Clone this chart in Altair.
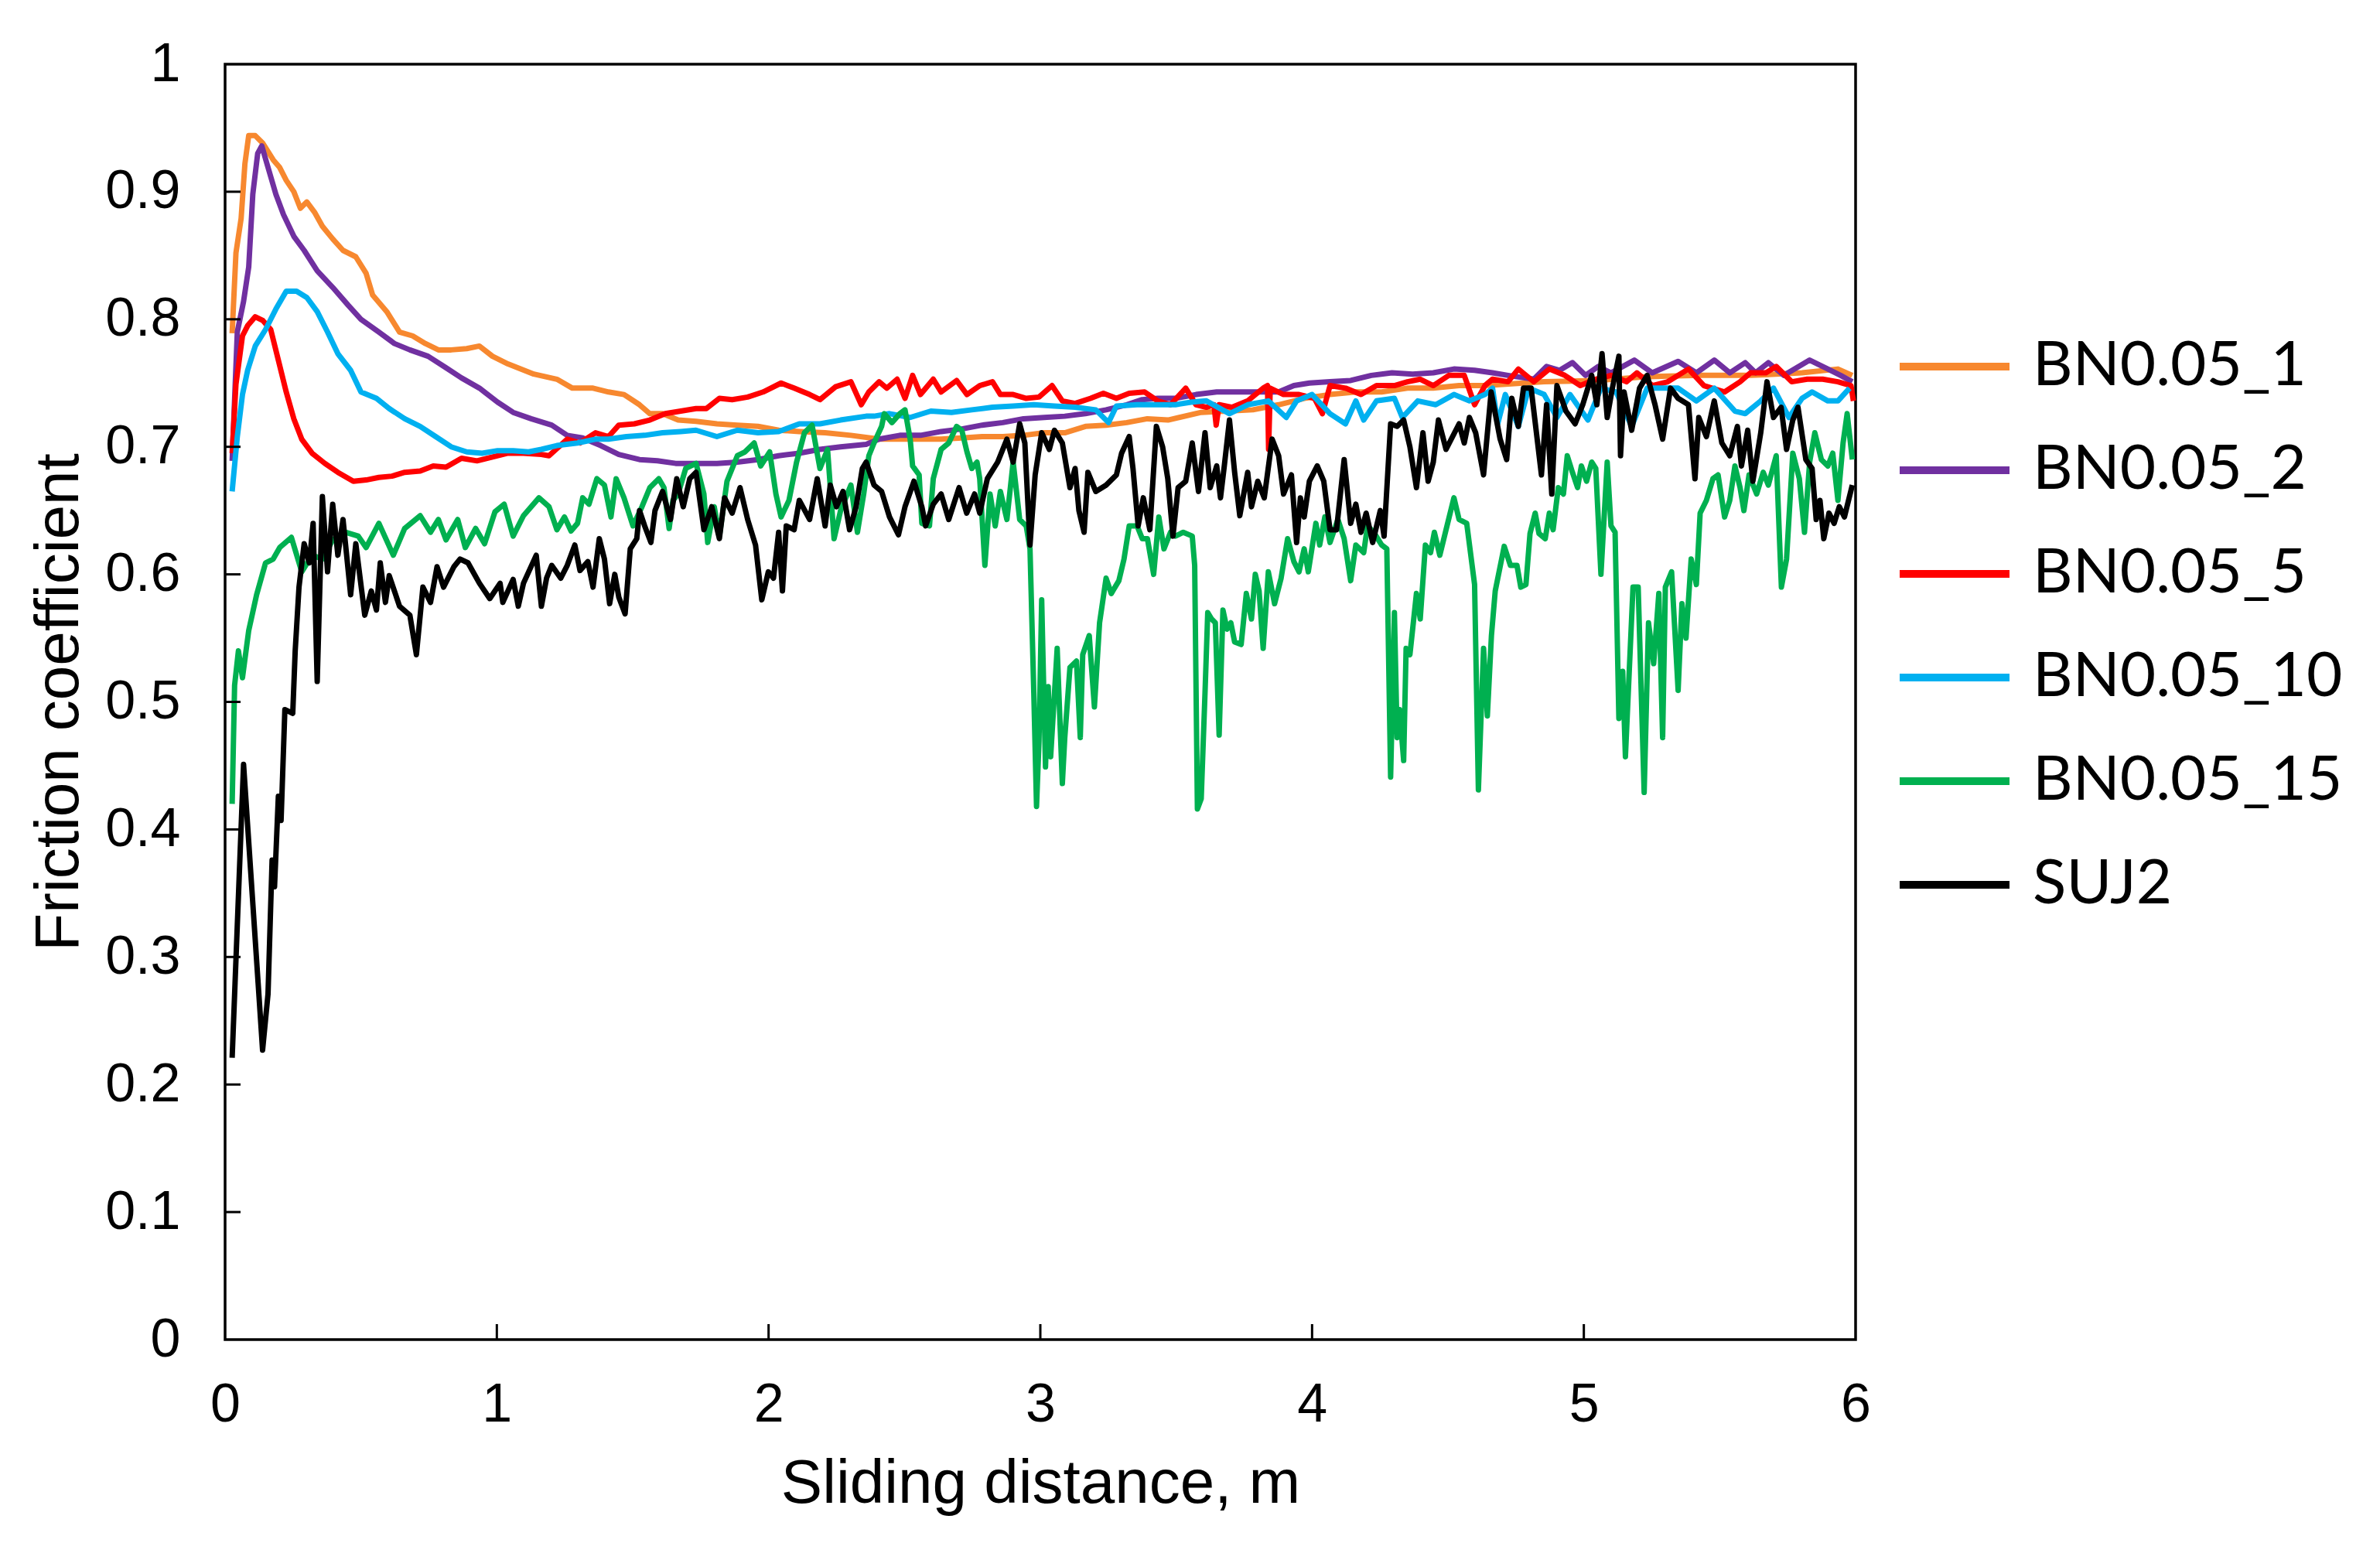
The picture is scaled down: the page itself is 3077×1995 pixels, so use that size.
import altair as alt
import pandas as pd

series_names = ["BN0.05_1", "BN0.05_2", "BN0.05_5", "BN0.05_10", "BN0.05_15", "SUJ2"]
series_colors = ["#F7882F", "#7030A0", "#FF0000", "#00B0F0", "#00B050", "#000000"]

x_ticks = [0, 1, 2, 3, 4, 5, 6]
y_ticks = [0, 0.1, 0.2, 0.3, 0.4, 0.5, 0.6, 0.7, 0.8, 0.9, 1]

bn1_x = [0.026, 0.04, 0.059, 0.073, 0.087, 0.111, 0.139, 0.177, 0.201, 0.225, 0.253, 0.277, 0.301, 0.329, 0.358,
         0.396, 0.434, 0.481, 0.519, 0.543, 0.595, 0.642, 0.69, 0.737, 0.785, 0.832, 0.889, 0.936, 0.984, 1.041,
         1.136, 1.221, 1.278, 1.354, 1.411, 1.468, 1.525, 1.563, 1.61, 1.667, 1.733, 1.81, 1.885, 1.961, 2.037,
         2.113, 2.208, 2.303, 2.407, 2.483, 2.559, 2.635, 2.711, 2.786, 2.862, 2.938, 3.014, 3.09, 3.166, 3.242,
         3.318, 3.394, 3.47, 3.592, 3.687, 3.782, 3.877, 3.971, 4.066, 4.161, 4.256, 4.351, 4.446, 4.541, 4.636,
         4.854, 5.044, 5.233, 5.423, 5.613, 5.803, 5.935, 5.988]
bn1_y = [0.789, 0.852, 0.879, 0.922, 0.944, 0.944, 0.938, 0.925, 0.919, 0.909, 0.9, 0.887, 0.892, 0.884, 0.873,
         0.863, 0.854, 0.849, 0.836, 0.819, 0.806, 0.79, 0.787, 0.781, 0.776, 0.776, 0.777, 0.779, 0.771, 0.765,
         0.757, 0.753, 0.746, 0.746, 0.743, 0.741, 0.733, 0.726, 0.726, 0.721, 0.72, 0.718, 0.717, 0.716, 0.713,
         0.712, 0.711, 0.709, 0.706, 0.706, 0.706, 0.706, 0.707, 0.708, 0.708, 0.709, 0.711, 0.711, 0.716, 0.717,
         0.719, 0.722, 0.721, 0.727, 0.728, 0.729, 0.733, 0.738, 0.741, 0.743, 0.743, 0.746, 0.746, 0.748, 0.748,
         0.751, 0.752, 0.755, 0.756, 0.756, 0.758, 0.761, 0.756]

bn2_x = [0.026, 0.045, 0.068, 0.087, 0.102, 0.12, 0.135, 0.154, 0.187, 0.215, 0.253, 0.291, 0.339, 0.396, 0.453,
         0.5, 0.566, 0.623, 0.68, 0.747, 0.813, 0.87, 0.936, 1.003, 1.06, 1.126, 1.202, 1.259, 1.316, 1.382,
         1.449, 1.525, 1.591, 1.658, 1.733, 1.81, 1.885, 1.961, 2.037, 2.113, 2.189, 2.265, 2.359, 2.407, 2.483,
         2.559, 2.635, 2.711, 2.786, 2.862, 2.938, 3.014, 3.09, 3.166, 3.242, 3.318, 3.375, 3.432, 3.497, 3.573,
         3.649, 3.725, 3.801, 3.877, 3.933, 3.99, 4.066, 4.142, 4.218, 4.294, 4.37, 4.446, 4.522, 4.598, 4.664,
         4.721, 4.816, 4.863, 4.911, 4.958, 5.006, 5.053, 5.1, 5.186, 5.252, 5.347, 5.414, 5.48, 5.537, 5.594,
         5.632, 5.679, 5.736, 5.831, 5.898, 5.945, 5.988]
bn2_y = [0.689, 0.79, 0.814, 0.841, 0.898, 0.93, 0.936, 0.922, 0.898, 0.882, 0.865, 0.854, 0.838, 0.825, 0.811,
         0.8, 0.79, 0.781, 0.776, 0.771, 0.762, 0.754, 0.746, 0.735, 0.727, 0.722, 0.717, 0.709, 0.707, 0.701,
         0.694, 0.69, 0.689, 0.687, 0.687, 0.687, 0.688, 0.69, 0.693, 0.695, 0.698, 0.7, 0.702, 0.706, 0.709,
         0.709, 0.712, 0.714, 0.717, 0.719, 0.722, 0.723, 0.724, 0.726, 0.729, 0.733, 0.737, 0.738, 0.738, 0.741,
         0.743, 0.743, 0.743, 0.743, 0.748, 0.75, 0.751, 0.752, 0.756, 0.758, 0.757, 0.758, 0.761, 0.76, 0.758,
         0.756, 0.753, 0.763, 0.76, 0.766, 0.756, 0.763, 0.758, 0.768, 0.758, 0.767, 0.758, 0.768, 0.758, 0.766,
         0.758, 0.766, 0.756, 0.768, 0.761, 0.756, 0.751]

bn5_x = [0.026, 0.04, 0.064, 0.083, 0.111, 0.139, 0.168, 0.196, 0.225, 0.253, 0.282, 0.32, 0.367, 0.415, 0.472,
         0.519, 0.566, 0.614, 0.661, 0.718, 0.766, 0.813, 0.87, 0.927, 0.984, 1.041, 1.098, 1.164, 1.192, 1.259,
         1.306, 1.363, 1.411, 1.449, 1.506, 1.563, 1.62, 1.677, 1.733, 1.771, 1.819, 1.866, 1.923, 1.98, 2.046,
         2.094, 2.151, 2.189, 2.246, 2.303, 2.341, 2.369, 2.407, 2.435, 2.473, 2.502, 2.53, 2.559, 2.606, 2.635,
         2.692, 2.73, 2.777, 2.824, 2.853, 2.9, 2.948, 2.995, 3.043, 3.081, 3.128, 3.185, 3.232, 3.28, 3.327,
         3.384, 3.432, 3.479, 3.535, 3.573, 3.611, 3.639, 3.647, 3.658, 3.706, 3.763, 3.82, 3.836, 3.84, 3.846,
         3.895, 3.952, 4.009, 4.038, 4.066, 4.123, 4.18, 4.237, 4.303, 4.351, 4.398, 4.446, 4.503, 4.56, 4.598,
         4.636, 4.664, 4.721, 4.759, 4.816, 4.873, 4.93, 4.987, 5.044, 5.1, 5.157, 5.195, 5.252, 5.309, 5.385,
         5.442, 5.518, 5.575, 5.613, 5.67, 5.708, 5.765, 5.822, 5.879, 5.935, 5.983, 5.992]
bn5_y = [0.695, 0.749, 0.787, 0.795, 0.802, 0.799, 0.792, 0.768, 0.743, 0.722, 0.706, 0.695, 0.687, 0.68, 0.673,
         0.674, 0.676, 0.677, 0.68, 0.681, 0.685, 0.684, 0.691, 0.689, 0.692, 0.695, 0.695, 0.694, 0.693, 0.706,
         0.703, 0.711, 0.708, 0.717, 0.718, 0.721, 0.726, 0.728, 0.73, 0.73, 0.738, 0.737, 0.739, 0.743, 0.75,
         0.746, 0.741, 0.737, 0.747, 0.751, 0.733, 0.743, 0.751, 0.746, 0.753, 0.738, 0.756, 0.741, 0.753, 0.743,
         0.752, 0.741, 0.748, 0.751, 0.741, 0.741, 0.738, 0.739, 0.748, 0.736, 0.734, 0.738, 0.742, 0.738, 0.742,
         0.743, 0.736, 0.733, 0.746, 0.733, 0.731, 0.733, 0.717, 0.733, 0.731, 0.736, 0.746, 0.748, 0.698, 0.746,
         0.741, 0.741, 0.738, 0.726, 0.748, 0.746, 0.741, 0.748, 0.748, 0.751, 0.753, 0.748, 0.756, 0.756, 0.733,
         0.748, 0.753, 0.751, 0.761, 0.751, 0.761, 0.756, 0.748, 0.753, 0.756, 0.751, 0.758, 0.748, 0.751, 0.761,
         0.748, 0.743, 0.751, 0.758, 0.758, 0.763, 0.751, 0.753, 0.753, 0.751, 0.748, 0.736]

bn10_x = [0.026, 0.045, 0.064, 0.083, 0.111, 0.149, 0.187, 0.225, 0.263, 0.301, 0.339, 0.377, 0.415, 0.462, 0.5,
          0.557, 0.604, 0.661, 0.718, 0.775, 0.832, 0.889, 0.946, 1.003, 1.06, 1.117, 1.164, 1.221, 1.297, 1.363,
          1.411, 1.477, 1.544, 1.61, 1.677, 1.733, 1.81, 1.885, 1.961, 2.037, 2.113, 2.189, 2.265, 2.359, 2.388,
          2.445, 2.521, 2.597, 2.673, 2.748, 2.824, 2.9, 2.976, 3.052, 3.128, 3.204, 3.251, 3.28, 3.356, 3.432,
          3.497, 3.554, 3.611, 3.696, 3.763, 3.839, 3.905, 3.943, 4.0, 4.066, 4.123, 4.161, 4.19, 4.237, 4.303,
          4.332, 4.389, 4.455, 4.522, 4.579, 4.636, 4.664, 4.683, 4.711, 4.759, 4.797, 4.854, 4.901, 4.949, 5.015,
          5.063, 5.119, 5.176, 5.233, 5.29, 5.347, 5.414, 5.48, 5.556, 5.594, 5.651, 5.698, 5.755, 5.803, 5.84,
          5.898, 5.935, 5.978]
bn10_y = [0.665, 0.708, 0.741, 0.76, 0.779, 0.792, 0.808, 0.822, 0.822, 0.817, 0.806, 0.79, 0.773, 0.76, 0.743,
          0.738, 0.73, 0.722, 0.716, 0.708, 0.7, 0.696, 0.695, 0.697, 0.697, 0.696, 0.698, 0.701, 0.703, 0.706,
          0.706, 0.708, 0.709, 0.711, 0.712, 0.713, 0.708, 0.713, 0.711, 0.712, 0.718, 0.718, 0.721, 0.724, 0.724,
          0.726, 0.723, 0.728, 0.727, 0.729, 0.731, 0.732, 0.733, 0.732, 0.731, 0.729, 0.719, 0.732, 0.733, 0.733,
          0.733, 0.735, 0.736, 0.726, 0.733, 0.736, 0.723, 0.736, 0.741, 0.726, 0.718, 0.736, 0.721, 0.736, 0.738,
          0.723, 0.736, 0.733, 0.741, 0.736, 0.741, 0.746, 0.718, 0.741, 0.716, 0.746, 0.741, 0.723, 0.741, 0.721,
          0.746, 0.743, 0.716, 0.746, 0.746, 0.746, 0.736, 0.746, 0.728, 0.726, 0.736, 0.746, 0.723, 0.738, 0.743,
          0.736, 0.736, 0.746]

bn15_x = [0.026, 0.035, 0.049, 0.064, 0.087, 0.116, 0.149, 0.177, 0.201, 0.244, 0.282, 0.32, 0.358, 0.396, 0.443,
          0.49, 0.519, 0.566, 0.619, 0.661, 0.718, 0.756, 0.785, 0.813, 0.856, 0.884, 0.922, 0.955, 0.993, 1.027,
          1.06, 1.098, 1.155, 1.192, 1.221, 1.249, 1.273, 1.297, 1.316, 1.339, 1.368, 1.396, 1.42, 1.439, 1.468,
          1.501, 1.534, 1.563, 1.596, 1.615, 1.634, 1.648, 1.667, 1.695, 1.733, 1.762, 1.776, 1.8, 1.819, 1.847,
          1.885, 1.913, 1.947, 1.971, 2.004, 2.027, 2.046, 2.075, 2.103, 2.132, 2.16, 2.189, 2.217, 2.241, 2.265,
          2.303, 2.327, 2.35, 2.369, 2.388, 2.416, 2.426, 2.454, 2.483, 2.502, 2.521, 2.53, 2.554, 2.564, 2.592,
          2.606, 2.635, 2.663, 2.692, 2.711, 2.73, 2.748, 2.767, 2.777, 2.796, 2.815, 2.834, 2.853, 2.877, 2.9,
          2.924, 2.948, 2.962, 2.976, 2.986, 2.995, 3.005, 3.019, 3.029, 3.038, 3.062, 3.081, 3.09, 3.109, 3.133,
          3.147, 3.156, 3.18, 3.199, 3.218, 3.242, 3.261, 3.289, 3.308, 3.327, 3.356, 3.375, 3.394, 3.417, 3.436,
          3.455, 3.479, 3.497, 3.526, 3.559, 3.568, 3.578, 3.592, 3.606, 3.616, 3.63, 3.644, 3.658, 3.672, 3.687,
          3.701, 3.715, 3.739, 3.758, 3.777, 3.791, 3.805, 3.82, 3.839, 3.862, 3.886, 3.91, 3.933, 3.952, 3.971,
          3.986, 4.014, 4.028, 4.047, 4.066, 4.095, 4.118, 4.142, 4.161, 4.19, 4.204, 4.227, 4.256, 4.275, 4.289,
          4.303, 4.313, 4.322, 4.337, 4.346, 4.36, 4.37, 4.384, 4.398, 4.417, 4.436, 4.45, 4.47, 4.493, 4.522,
          4.541, 4.569, 4.598, 4.612, 4.631, 4.645, 4.66, 4.674, 4.707, 4.73, 4.754, 4.768, 4.787, 4.802, 4.821,
          4.835, 4.858, 4.873, 4.887, 4.906, 4.925, 4.939, 4.958, 4.977, 4.991, 5.01, 5.029, 5.044, 5.063, 5.086,
          5.1, 5.115, 5.129, 5.143, 5.153, 5.181, 5.2, 5.222, 5.238, 5.257, 5.276, 5.29, 5.3, 5.323, 5.347,
          5.361, 5.376, 5.395, 5.414, 5.428, 5.451, 5.475, 5.494, 5.518, 5.537, 5.556, 5.575, 5.589, 5.608, 5.636,
          5.66, 5.679, 5.708, 5.727, 5.746, 5.769, 5.793, 5.812, 5.831, 5.85, 5.874, 5.898, 5.916, 5.935, 5.954,
          5.969, 5.988]
bn15_y = [0.42, 0.513, 0.54, 0.519, 0.556, 0.584, 0.609, 0.612, 0.621, 0.629, 0.602, 0.615, 0.612, 0.627, 0.633,
          0.63, 0.621, 0.64, 0.615, 0.636, 0.646, 0.633, 0.643, 0.627, 0.643, 0.621, 0.636, 0.624, 0.649, 0.655,
          0.63, 0.646, 0.66, 0.653, 0.635, 0.645, 0.634, 0.64, 0.66, 0.655, 0.675, 0.67, 0.645, 0.675, 0.66,
          0.638, 0.653, 0.668, 0.675, 0.668, 0.636, 0.658, 0.663, 0.683, 0.687, 0.663, 0.625, 0.653, 0.63, 0.673,
          0.693, 0.696, 0.703, 0.685, 0.696, 0.663, 0.645, 0.658, 0.688, 0.711, 0.717, 0.683, 0.698, 0.628, 0.65,
          0.67, 0.633, 0.663, 0.693, 0.703, 0.716, 0.726, 0.719, 0.726, 0.729, 0.706, 0.685, 0.678, 0.64, 0.638,
          0.675, 0.698, 0.703, 0.716, 0.713, 0.696, 0.683, 0.688, 0.675, 0.607, 0.663, 0.638, 0.665, 0.643, 0.688,
          0.643, 0.638, 0.62, 0.507, 0.418, 0.469, 0.58, 0.449, 0.512, 0.457, 0.542, 0.436, 0.472, 0.527, 0.532,
          0.472, 0.537, 0.552, 0.496, 0.562, 0.597, 0.585, 0.595, 0.612, 0.638, 0.638, 0.628, 0.628, 0.6, 0.645,
          0.62, 0.633, 0.63, 0.633, 0.63, 0.607, 0.416, 0.424, 0.507, 0.57, 0.565, 0.562, 0.474, 0.572, 0.557,
          0.562, 0.547, 0.545, 0.585, 0.565, 0.6, 0.587, 0.542, 0.602, 0.577, 0.597, 0.628, 0.61, 0.602, 0.62,
          0.602, 0.64, 0.623, 0.645, 0.625, 0.643, 0.628, 0.595, 0.623, 0.617, 0.638, 0.633, 0.623, 0.62, 0.441,
          0.57, 0.472, 0.494, 0.454, 0.542, 0.537, 0.557, 0.585, 0.565, 0.623, 0.617, 0.633, 0.615, 0.635, 0.66,
          0.643, 0.64, 0.592, 0.431, 0.542, 0.489, 0.552, 0.587, 0.622, 0.607, 0.607, 0.59, 0.592, 0.632, 0.648,
          0.632, 0.628, 0.648, 0.635, 0.668, 0.663, 0.693, 0.68, 0.668, 0.685, 0.673, 0.688, 0.683, 0.6, 0.688,
          0.638, 0.633, 0.487, 0.524, 0.457, 0.59, 0.59, 0.429, 0.562, 0.53, 0.585, 0.472, 0.59, 0.602, 0.509,
          0.577, 0.55, 0.612, 0.592, 0.648, 0.658, 0.675, 0.678, 0.645, 0.658, 0.685, 0.668, 0.65, 0.678, 0.663,
          0.68, 0.67, 0.693, 0.59, 0.612, 0.695, 0.675, 0.633, 0.688, 0.711, 0.69, 0.685, 0.695, 0.658, 0.703,
          0.726, 0.69]

suj2_x = [0.026, 0.068, 0.138, 0.158, 0.173, 0.182, 0.196, 0.206, 0.22, 0.249, 0.258, 0.272, 0.291, 0.31, 0.324,
          0.339, 0.358, 0.377, 0.396, 0.415, 0.434, 0.462, 0.481, 0.514, 0.538, 0.557, 0.571, 0.59, 0.604, 0.642,
          0.68, 0.704, 0.728, 0.756, 0.78, 0.804, 0.842, 0.865, 0.894, 0.936, 0.974, 1.012, 1.022, 1.06, 1.079,
          1.098, 1.145, 1.164, 1.183, 1.202, 1.235, 1.259, 1.287, 1.306, 1.335, 1.354, 1.377, 1.396, 1.415, 1.434,
          1.449, 1.472, 1.491, 1.515, 1.525, 1.544, 1.567, 1.582, 1.61, 1.639, 1.662, 1.686, 1.71, 1.733, 1.762,
          1.791, 1.819, 1.838, 1.866, 1.895, 1.923, 1.952, 1.975, 1.999, 2.018, 2.037, 2.051, 2.065, 2.094, 2.113,
          2.151, 2.179, 2.208, 2.227, 2.25, 2.274, 2.298, 2.322, 2.345, 2.359, 2.388, 2.416, 2.445, 2.478, 2.502,
          2.535, 2.564, 2.578, 2.606, 2.635, 2.663, 2.701, 2.729, 2.758, 2.777, 2.805, 2.843, 2.877, 2.9, 2.924,
          2.943, 2.962, 2.981, 3.005, 3.033, 3.052, 3.081, 3.109, 3.128, 3.142, 3.161, 3.175, 3.204, 3.242, 3.28,
          3.299, 3.327, 3.341, 3.36, 3.379, 3.403, 3.427, 3.45, 3.469, 3.488, 3.507, 3.535, 3.559, 3.582, 3.606,
          3.625, 3.649, 3.663, 3.677, 3.696, 3.715, 3.734, 3.763, 3.777, 3.8, 3.824, 3.853, 3.877, 3.895, 3.924,
          3.943, 3.957, 3.971, 3.99, 4.019, 4.043, 4.066, 4.09, 4.118, 4.142, 4.161, 4.18, 4.199, 4.223, 4.251,
          4.265, 4.289, 4.313, 4.337, 4.36, 4.384, 4.408, 4.427, 4.446, 4.465, 4.493, 4.517, 4.541, 4.56, 4.579,
          4.602, 4.631, 4.659, 4.692, 4.716, 4.735, 4.759, 4.778, 4.806, 4.844, 4.863, 4.882, 4.901, 4.934, 4.968,
          4.996, 5.029, 5.048, 5.067, 5.086, 5.105, 5.129, 5.135, 5.148, 5.176, 5.205, 5.233, 5.262, 5.29, 5.319,
          5.347, 5.385, 5.409, 5.423, 5.451, 5.48, 5.508, 5.537, 5.565, 5.58, 5.603, 5.622, 5.651, 5.674, 5.698,
          5.726, 5.746, 5.769, 5.788, 5.817, 5.84, 5.855, 5.869, 5.883, 5.902, 5.921, 5.94, 5.959, 5.988]
suj2_y = [0.221, 0.451, 0.227, 0.271, 0.376, 0.355, 0.426, 0.407, 0.494, 0.491, 0.54, 0.59, 0.624, 0.609, 0.64,
          0.516, 0.661, 0.602, 0.655, 0.615, 0.643, 0.584, 0.624, 0.568, 0.587, 0.572, 0.609, 0.578, 0.599, 0.575,
          0.568, 0.537, 0.59, 0.578, 0.606, 0.59, 0.606, 0.612, 0.609, 0.593, 0.581, 0.593, 0.578, 0.596, 0.575,
          0.593, 0.615, 0.575, 0.597, 0.607, 0.597, 0.607, 0.623, 0.603, 0.61, 0.59, 0.628, 0.612, 0.577, 0.6,
          0.582, 0.569, 0.62, 0.628, 0.65, 0.638, 0.625, 0.65, 0.665, 0.643, 0.675, 0.653, 0.675, 0.68, 0.635,
          0.653, 0.628, 0.66, 0.648, 0.668, 0.643, 0.623, 0.58, 0.602, 0.597, 0.633, 0.587, 0.638, 0.635, 0.658,
          0.643, 0.675, 0.638, 0.67, 0.653, 0.665, 0.635, 0.653, 0.683, 0.688, 0.67, 0.665, 0.645, 0.631, 0.653,
          0.673, 0.653, 0.638, 0.655, 0.663, 0.643, 0.668, 0.648, 0.663, 0.648, 0.675, 0.688, 0.706, 0.688, 0.718,
          0.703, 0.623, 0.678, 0.711, 0.698, 0.713, 0.703, 0.668, 0.683, 0.65, 0.633, 0.68, 0.665, 0.67, 0.678,
          0.695, 0.708, 0.683, 0.638, 0.66, 0.635, 0.716, 0.7, 0.675, 0.63, 0.668, 0.673, 0.703, 0.665, 0.711,
          0.668, 0.685, 0.66, 0.685, 0.721, 0.68, 0.646, 0.68, 0.653, 0.673, 0.66, 0.706, 0.693, 0.663, 0.678,
          0.625, 0.66, 0.645, 0.673, 0.685, 0.673, 0.635, 0.635, 0.69, 0.64, 0.655, 0.633, 0.648, 0.625, 0.65,
          0.63, 0.718, 0.716, 0.721, 0.7, 0.668, 0.711, 0.673, 0.688, 0.721, 0.698, 0.708, 0.718, 0.703, 0.723,
          0.711, 0.678, 0.743, 0.706, 0.69, 0.738, 0.716, 0.746, 0.746, 0.678, 0.733, 0.663, 0.748, 0.728, 0.718,
          0.733, 0.756, 0.733, 0.773, 0.723, 0.746, 0.771, 0.693, 0.743, 0.713, 0.746, 0.756, 0.733, 0.706, 0.746,
          0.738, 0.733, 0.675, 0.723, 0.708, 0.736, 0.703, 0.693, 0.716, 0.685, 0.713, 0.673, 0.711, 0.751, 0.723,
          0.731, 0.698, 0.721, 0.731, 0.69, 0.683, 0.643, 0.658, 0.628, 0.648, 0.64, 0.653, 0.645, 0.67]

all_x = [bn1_x, bn2_x, bn5_x, bn10_x, bn15_x, suj2_x]
all_y = [bn1_y, bn2_y, bn5_y, bn10_y, bn15_y, suj2_y]

rows = []
for name, xs, ys in zip(series_names, all_x, all_y):
    for xv, yv in zip(xs, ys):
        rows.append({"x": xv, "y": yv, "series": name})
df = pd.DataFrame(rows)

PLOT_W, PLOT_H = 2108, 1649
AXIS_FONT = "Liberation Sans"

x_scale = alt.Scale(domain=[0, 6], nice=False, zero=False)
y_scale = alt.Scale(domain=[0, 1], nice=False)

x_axis = alt.Axis(values=x_ticks, title="Sliding distance, m", grid=False, domain=False, ticks=False,
                  tickSize=0, labelPadding=50, labelFontSize=70, labelFont=AXIS_FONT, labelColor="black",
                  titleFontSize=80, titleFont=AXIS_FONT, titleFontWeight="normal", titleColor="black",
                  titlePadding=28, labelFlush=False, labelOverlap=False)
y_axis = alt.Axis(values=y_ticks, format=".1~f", title="Friction coefficient", grid=False, domain=False,
                  ticks=False, tickSize=0, labelPadding=58, labelFontSize=70, labelFont=AXIS_FONT,
                  labelColor="black", titleFontSize=80, titleFont=AXIS_FONT, titleFontWeight="normal",
                  titleColor="black", titlePadding=18, labelFlush=False, labelOverlap=False)

lines = alt.Chart(df).mark_line(strokeWidth=7, interpolate="linear", strokeJoin="round").encode(
    x=alt.X("x:Q", scale=x_scale, axis=x_axis),
    y=alt.Y("y:Q", scale=y_scale, axis=y_axis),
    color=alt.Color("series:N",
                    scale=alt.Scale(domain=series_names, range=series_colors),
                    sort=series_names,
                    legend=alt.Legend(orient="none", legendX=2160, legendY=315, title=None,
                                      symbolType="stroke", symbolSize=20164, symbolStrokeWidth=10,
                                      labelFontSize=80, labelFont="Lato", labelColor="black",
                                      labelOffset=25, labelLimit=2000, rowPadding=18, padding=0)),
)

ytick_df = pd.DataFrame({"y": y_ticks[1:-1]})
xtick_df = pd.DataFrame({"x": x_ticks[1:-1]})

yticks = alt.Chart(ytick_df).mark_rule(color="black", strokeWidth=3).encode(
    y=alt.Y("y:Q", scale=y_scale, axis=y_axis),
    x=alt.value(0),
    x2=alt.value(20),
)
xticks = alt.Chart(xtick_df).mark_rule(color="black", strokeWidth=3).encode(
    x=alt.X("x:Q", scale=x_scale, axis=x_axis),
    y=alt.value(PLOT_H),
    y2=alt.value(PLOT_H - 20),
)

chart = alt.layer(lines, yticks, xticks).properties(
    width=PLOT_W,
    height=PLOT_H,
    autosize=alt.AutoSizeParams(type="none"),
    padding={"left": 283, "top": 75, "right": 670, "bottom": 255},
    background="white",
).configure_view(stroke="black", strokeWidth=3.5)

chart.save("out.html", embed_options={"renderer": "svg", "actions": False})
